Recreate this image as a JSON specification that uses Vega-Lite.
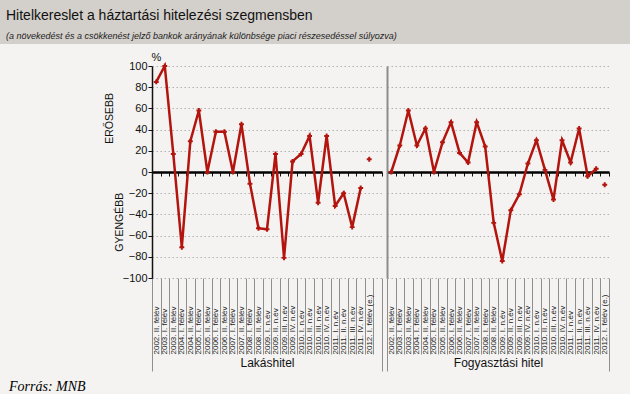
{
  "$schema": "https://vega.github.io/schema/vega-lite/v6.json",
  "background": "#f4f3f1",
  "padding": 0,
  "config": {"view": {"stroke": null}, "font": "Liberation Sans"},
  "datasets": {
    "d": [
      {"g": "L", "cat": "2002. II. félév", "v": 85, "kind": "tény"},
      {"g": "L", "cat": "2003. I. félév", "v": 100, "kind": "tény"},
      {"g": "L", "cat": "2003. II. félév", "v": 17, "kind": "tény"},
      {"g": "L", "cat": "2004. I. félév", "v": -71, "kind": "tény"},
      {"g": "L", "cat": "2004. II. félév", "v": 29, "kind": "tény"},
      {"g": "L", "cat": "2005. I. félév", "v": 58, "kind": "tény"},
      {"g": "L", "cat": "2005. II. félév", "v": 0, "kind": "tény"},
      {"g": "L", "cat": "2006. I. félév", "v": 38, "kind": "tény"},
      {"g": "L", "cat": "2006. II. félév", "v": 38, "kind": "tény"},
      {"g": "L", "cat": "2007. I. félév", "v": 0, "kind": "tény"},
      {"g": "L", "cat": "2007. II. félév", "v": 45, "kind": "tény"},
      {"g": "L", "cat": "2008. I. félév", "v": -11, "kind": "tény"},
      {"g": "L", "cat": "2008. II. félév", "v": -53, "kind": "tény"},
      {"g": "L", "cat": "2009. I. n.év", "v": -54, "kind": "tény"},
      {"g": "L", "cat": "2009. II. n.év", "v": 17, "kind": "tény"},
      {"g": "L", "cat": "2009. III. n.év", "v": -81, "kind": "tény"},
      {"g": "L", "cat": "2009. IV. n.év", "v": 10, "kind": "tény"},
      {"g": "L", "cat": "2010. I. n.év", "v": 17, "kind": "tény"},
      {"g": "L", "cat": "2010. II. n.év", "v": 34, "kind": "tény"},
      {"g": "L", "cat": "2010. III. n.év", "v": -29, "kind": "tény"},
      {"g": "L", "cat": "2010. IV. n.év", "v": 34, "kind": "tény"},
      {"g": "L", "cat": "2011. I. n.év", "v": -32, "kind": "tény"},
      {"g": "L", "cat": "2011. II. n.év", "v": -20, "kind": "tény"},
      {"g": "L", "cat": "2011. III. n.év", "v": -52, "kind": "tény"},
      {"g": "L", "cat": "2011. IV. n.év", "v": -15, "kind": "tény"},
      {"g": "L", "cat": "2012. I. félév (e.)", "v": 12, "kind": "becslés"},
      {"g": "F", "cat": "2002. II. félév", "v": 0, "kind": "tény"},
      {"g": "F", "cat": "2003. I. félév", "v": 25, "kind": "tény"},
      {"g": "F", "cat": "2003. II. félév", "v": 58, "kind": "tény"},
      {"g": "F", "cat": "2004. I. félév", "v": 25, "kind": "tény"},
      {"g": "F", "cat": "2004. II. félév", "v": 41, "kind": "tény"},
      {"g": "F", "cat": "2005. I. félév", "v": 0, "kind": "tény"},
      {"g": "F", "cat": "2005. II. félév", "v": 28, "kind": "tény"},
      {"g": "F", "cat": "2006. I. félév", "v": 47, "kind": "tény"},
      {"g": "F", "cat": "2006. II. félév", "v": 18, "kind": "tény"},
      {"g": "F", "cat": "2007. I. félév", "v": 9, "kind": "tény"},
      {"g": "F", "cat": "2007. II. félév", "v": 47, "kind": "tény"},
      {"g": "F", "cat": "2008. I. félév", "v": 24, "kind": "tény"},
      {"g": "F", "cat": "2008. II. félév", "v": -48, "kind": "tény"},
      {"g": "F", "cat": "2009. I. n.év", "v": -84, "kind": "tény"},
      {"g": "F", "cat": "2009. II. n.év", "v": -36, "kind": "tény"},
      {"g": "F", "cat": "2009. III. n.év", "v": -21, "kind": "tény"},
      {"g": "F", "cat": "2009. IV. n.év", "v": 8, "kind": "tény"},
      {"g": "F", "cat": "2010. I. n.év", "v": 30, "kind": "tény"},
      {"g": "F", "cat": "2010. II. n.év", "v": 2, "kind": "tény"},
      {"g": "F", "cat": "2010. III. n.év", "v": -26, "kind": "tény"},
      {"g": "F", "cat": "2010. IV. n.év", "v": 30, "kind": "tény"},
      {"g": "F", "cat": "2011. I. n.év", "v": 9, "kind": "tény"},
      {"g": "F", "cat": "2011. II. n.év", "v": 41, "kind": "tény"},
      {"g": "F", "cat": "2011. III. n.év", "v": -4, "kind": "tény"},
      {"g": "F", "cat": "2011. IV. n.év", "v": 3, "kind": "tény"},
      {"g": "F", "cat": "2012. I. félév (e.)", "v": -12, "kind": "becslés"}
    ]
  },
  "title": {"text": "Forrás: MNB", "orient": "bottom", "anchor": "start", "frame": "bounds", "dx": 9, "offset": 8, "font": "Liberation Serif", "fontStyle": "italic", "fontSize": 14, "fontWeight": "normal", "color": "#000"},
  "spacing": 7,
  "vconcat": [
    {
      "width": 630, "height": 44,
      "view": {"fill": "#d3cfca", "stroke": null},
      "data": {"values": [{"t": ""}]},
      "mark": {"type": "text"},
      "encoding": {"text": {"field": "t"}},
      "title": {"text": "Hitelkereslet a háztartási hitelezési szegmensben", "subtitle": "(a növekedést és a csökkenést jelző bankok arányának különbsége piaci részesedéssel súlyozva)", "anchor": "start", "frame": "group", "orient": "top", "offset": -41, "dx": 6, "font": "Liberation Sans", "fontSize": 14, "fontWeight": "normal", "color": "#111", "subtitleFont": "Liberation Sans", "subtitleFontSize": 9, "subtitleFontStyle": "italic", "subtitleColor": "#222", "subtitlePadding": 9}
    },
    {
      "spacing": 0,
      "hconcat": [
        {
          "width": 104, "height": 212,
          "data": {"values": [{"t": ""}]},
          "mark": {"type": "text"},
          "encoding": {"text": {"field": "t"}}
        },
        {
          "width": 230, "height": 212,
          "data": {"name": "d"},
          "transform": [{"filter": "datum.g === 'L'"}],
          "layer": [
            {
              "mark": {"type": "line", "color": "#b3140e", "strokeWidth": 2.5, "point": {"shape": "cross", "size": 24, "filled": true, "color": "#b3140e"}},
              "encoding": {
                "x": {"field": "cat", "type": "ordinal",
                  "scale": {"type": "band", "paddingInner": 0, "paddingOuter": 0, "domain": ["2002. II. félév", "2003. I. félév", "2003. II. félév", "2004. I. félév", "2004. II. félév", "2005. I. félév", "2005. II. félév", "2006. I. félév", "2006. II. félév", "2007. I. félév", "2007. II. félév", "2008. I. félév", "2008. II. félév", "2009. I. n.év", "2009. II. n.év", "2009. III. n.év", "2009. IV. n.év", "2010. I. n.év", "2010. II. n.év", "2010. III. n.év", "2010. IV. n.év", "2011. I. n.év", "2011. II. n.év", "2011. III. n.év", "2011. IV. n.év", "2012. I. félév (e.)", " "]},
                  "axis": {"orient": "bottom", "domain": false, "grid": false, "ticks": true, "tickBand": "extent", "tickColor": "#8f8f8f", "tickWidth": 1,
                    "tickSize": {"condition": {"test": "datum.extra || datum.value === ' '", "value": 93}, "value": 76},
                    "labelAngle": 270, "labelAlign": "left", "labelBaseline": "middle", "labelPadding": 0, "labelFont": "Liberation Sans", "labelFontSize": 8, "labelColor": "#222", "labelOverlap": false,
                    "title": "Lakáshitel", "titleY": 88, "titleBaseline": "alphabetic", "titleFont": "Liberation Sans", "titleFontSize": 12, "titleFontWeight": "normal", "titleColor": "#111"}},
                "y": {"field": "v", "type": "quantitative", "scale": {"domain": [-100, 100], "nice": false, "zero": false},
                  "axis": {"orient": "left", "values": [-100, -80, -60, -40, -20, 0, 20, 40, 60, 80, 100], "grid": true, "gridColor": "#b0b0b0", "gridDash": [1.5, 2.5], "gridWidth": 1,
                    "domain": true, "domainColor": "#111", "domainWidth": 1.5, "ticks": true, "tickColor": "#111", "tickSize": 4, "tickWidth": 1,
                    "labelFont": "Liberation Sans", "labelFontSize": 11, "labelColor": "#111", "labelPadding": 1,
                    "title": "%", "titleAngle": 0, "titleX": 4, "titleY": -6, "titleAlign": "center", "titleBaseline": "alphabetic", "titleFont": "Liberation Sans", "titleFontSize": 11, "titleFontWeight": "normal", "titleColor": "#111"}},
                "detail": {"field": "kind"}
              }
            },
            {
              "mark": {"type": "point", "opacity": 0},
              "encoding": {
                "x": {"field": "cat", "type": "ordinal",
                  "scale": {"type": "band", "paddingInner": 0, "paddingOuter": 0, "domain": ["2002. II. félév", "2003. I. félév", "2003. II. félév", "2004. I. félév", "2004. II. félév", "2005. I. félév", "2005. II. félév", "2006. I. félév", "2006. II. félév", "2007. I. félév", "2007. II. félév", "2008. I. félév", "2008. II. félév", "2009. I. n.év", "2009. II. n.év", "2009. III. n.év", "2009. IV. n.év", "2010. I. n.év", "2010. II. n.év", "2010. III. n.év", "2010. IV. n.év", "2011. I. n.év", "2011. II. n.év", "2011. III. n.év", "2011. IV. n.év", "2012. I. félév (e.)", " "]},
                  "axis": {"orient": "bottom", "offset": -106, "domain": true, "domainColor": "#000", "domainWidth": 2.5, "ticks": true, "tickBand": "extent", "tickColor": "#111", "tickSize": 4, "tickWidth": 1, "labels": false, "grid": false, "title": null}},
                "y": {"field": "v", "type": "quantitative", "scale": {"domain": [-100, 100], "nice": false, "zero": false},
                  "axis": {"orient": "left", "values": [51, -47], "grid": false, "domain": false, "ticks": false, "tickSize": 0,
                    "labelExpr": "datum.value > 0 ? 'ERŐSEBB' : 'GYENGÉBB'", "labelAngle": 270, "labelAlign": "center", "labelBaseline": "alphabetic",
                    "labelPadding": {"condition": {"test": "datum.value > 0", "value": 40}, "value": 30},
                    "labelFont": "Liberation Sans", "labelFontSize": 10.5, "labelColor": "#111", "title": null}}
              }
            }
          ],
          "resolve": {"axis": {"x": "independent", "y": "independent"}}
        },
        {
          "width": 222, "height": 212,
          "data": {"name": "d"},
          "transform": [{"filter": "datum.g === 'F'"}],
          "layer": [
            {
              "mark": {"type": "line", "color": "#b3140e", "strokeWidth": 2.5, "point": {"shape": "cross", "size": 24, "filled": true, "color": "#b3140e"}},
              "encoding": {
                "x": {"field": "cat", "type": "ordinal", "sort": null,
                  "scale": {"type": "band", "paddingInner": 0, "paddingOuter": 0},
                  "axis": {"orient": "bottom", "domain": false, "grid": false, "ticks": true, "tickBand": "extent", "tickColor": "#8f8f8f", "tickWidth": 1,
                    "tickSize": {"condition": {"test": "datum.extra || datum.value === '2012. I. félév (e.)'", "value": 93}, "value": 76},
                    "labelAngle": 270, "labelAlign": "left", "labelBaseline": "middle",
                    "labelPadding": {"condition": {"test": "datum.value === '2012. I. félév (e.)'", "value": -17}, "value": 0},
                    "labelFont": "Liberation Sans", "labelFontSize": 8, "labelColor": "#222", "labelOverlap": false,
                    "title": "Fogyasztási hitel", "titleY": 88, "titleBaseline": "alphabetic", "titleFont": "Liberation Sans", "titleFontSize": 12, "titleFontWeight": "normal", "titleColor": "#111"}},
                "y": {"field": "v", "type": "quantitative", "scale": {"domain": [-100, 100], "nice": false, "zero": false},
                  "axis": {"orient": "left", "values": [-100, -80, -60, -40, -20, 0, 20, 40, 60, 80, 100], "grid": true, "gridColor": "#b0b0b0", "gridDash": [1.5, 2.5], "gridWidth": 1,
                    "domain": true, "domainColor": "#8c8c8c", "domainWidth": 2, "ticks": false, "labels": false,
                    "title": "%", "titleOpacity": 0, "titleAngle": 0, "titleX": 4, "titleY": -6, "titleAlign": "center", "titleBaseline": "alphabetic", "titleFontSize": 11}},
                "detail": {"field": "kind"}
              }
            },
            {
              "mark": {"type": "point", "opacity": 0},
              "encoding": {
                "x": {"field": "cat", "type": "ordinal", "sort": null,
                  "scale": {"type": "band", "paddingInner": 0, "paddingOuter": 0},
                  "axis": {"orient": "bottom", "offset": -106, "domain": true, "domainColor": "#000", "domainWidth": 2.5, "ticks": true, "tickBand": "extent", "tickColor": "#111", "tickSize": 4, "tickWidth": 1, "labels": false, "grid": false, "title": null}},
                "y": {"field": "v", "type": "quantitative", "scale": {"domain": [-100, 100], "nice": false, "zero": false}, "axis": null}
              }
            }
          ],
          "resolve": {"axis": {"x": "independent", "y": "independent"}}
        }
      ]
    }
  ]
}
